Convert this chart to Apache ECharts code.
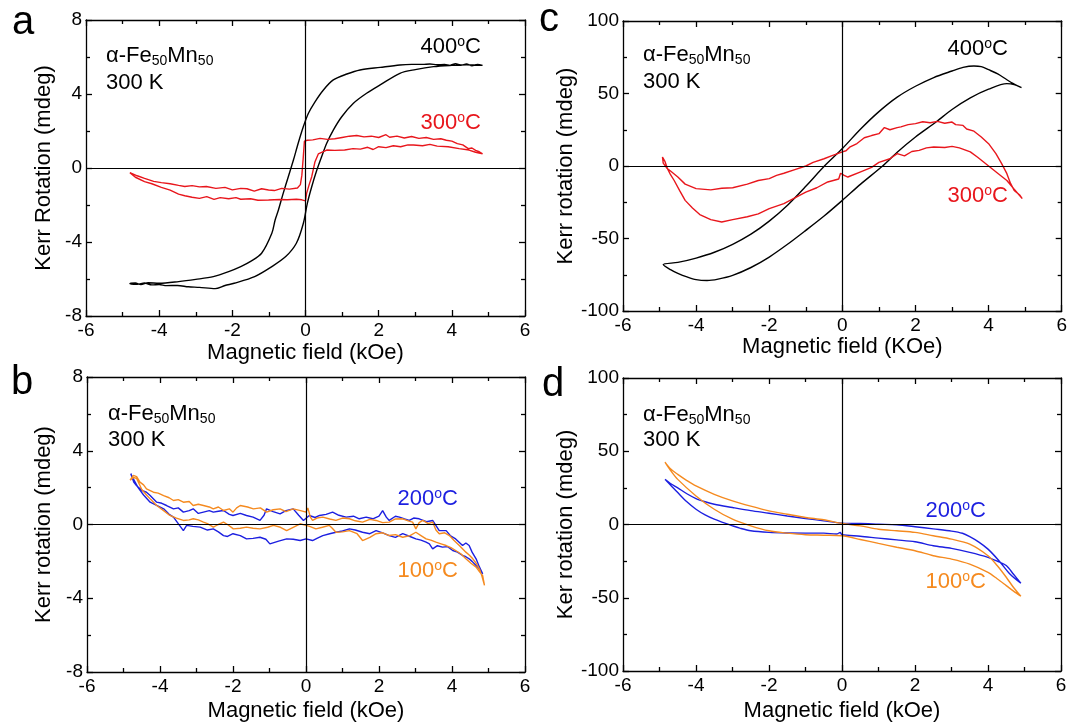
<!DOCTYPE html>
<html>
<head>
<meta charset="utf-8">
<title>Kerr loops</title>
<script src="https://cdn.jsdelivr.net/npm/echarts@6/dist/echarts.min.js"></script>
<style>
  html, body { margin: 0; padding: 0; background: #fff; }
  #main { width: 1070px; height: 723px; }
</style>
</head>
<body>
<div id="main"></div>
<script>
// ---- data: [field (kOe), Kerr rotation (mdeg)] ----
// panel a
var loopA400 = [[4.84,5.55],[4.7,5.6],[4.55,5.52],[4.4,5.62],[4.25,5.55],[4.1,5.64],[3.95,5.55],[3.8,5.6],[3.6,5.58],[3.4,5.62],
  [3.2,5.6],[2.9,5.6],[2.58,5.57],[2.04,5.44],[1.49,5.3],[1.13,5.08],[0.76,4.76],[0.49,4.22],[0.26,3.58],[0.08,2.96],
  [-0.06,2.23],[-0.2,1.34],[-0.33,0.43],[-0.47,-0.47],[-0.61,-1.37],[-0.74,-2.27],[-0.83,-2.81],[-0.92,-3.53],[-1.2,-4.61],[-1.5,-5.05],
  [-1.77,-5.33],[-2.1,-5.6],[-2.52,-5.87],[-3.0,-6.02],[-3.47,-6.14],[-4.0,-6.23],[-4.3,-6.2],[-4.5,-6.3],[-4.65,-6.22],[-4.8,-6.25],
  [-4.6,-6.28],[-4.4,-6.22],[-4.2,-6.32],[-4.0,-6.3],[-3.8,-6.36],[-3.5,-6.35],[-3.2,-6.42],[-2.9,-6.45],[-2.47,-6.52],[-2.2,-6.35],
  [-1.95,-6.23],[-1.39,-5.87],[-0.92,-5.33],[-0.54,-4.79],[-0.25,-4.07],[-0.06,-3.0],[0.05,-1.91],[0.17,-1.01],[0.31,-0.11],[0.44,0.61],
  [0.58,1.34],[0.76,2.05],[0.99,2.77],[1.31,3.5],[1.67,4.04],[2.04,4.49],[2.58,5.12],[3.0,5.32],[3.5,5.48],[4.0,5.55],[4.4,5.58],[4.84,5.55]];
var loopA300 = [[4.84,0.76],[4.75,0.88],[4.65,0.95],[4.55,1.08],[4.45,1.05],[4.3,1.25],[4.15,1.32],[4.0,1.45],[3.85,1.5],[3.7,1.58],
  [3.5,1.55],[3.3,1.65],[3.1,1.6],[2.9,1.7],[2.7,1.62],[2.5,1.72],[2.3,1.66],[2.2,1.8],[2.0,1.65],[1.8,1.72],
  [1.6,1.68],[1.4,1.76],[1.2,1.72],[1.0,1.65],[0.8,1.58],[0.6,1.55],[0.4,1.6],[0.2,1.52],[0.05,1.5],[-0.03,1.45],
  [-0.06,0.6],[-0.1,-0.4],[-0.14,-0.9],[-0.22,-1.08],[-0.44,-1.14],[-0.65,-1.1],[-0.85,-1.22],[-1.01,-1.19],[-1.2,-1.12],[-1.4,-1.25],
  [-1.6,-1.12],[-1.77,-1.1],[-2.0,-1.18],[-2.2,-1.05],[-2.45,-1.1],[-2.71,-1.0],[-2.9,-1.02],[-3.1,-0.95],[-3.3,-1.0],[-3.47,-0.94],
  [-3.7,-0.85],[-3.94,-0.79],[-4.15,-0.72],[-4.4,-0.56],[-4.6,-0.42],[-4.8,-0.25],
  [-4.8,-0.35],[-4.65,-0.5],[-4.4,-0.74],[-4.2,-0.85],[-3.94,-1.05],[-3.7,-1.2],[-3.47,-1.41],[-3.3,-1.5],[-3.1,-1.58],[-2.9,-1.64],
  [-2.7,-1.55],[-2.5,-1.7],[-2.33,-1.6],[-2.1,-1.66],[-1.9,-1.6],[-1.77,-1.69],[-1.5,-1.66],[-1.3,-1.74],[-1.01,-1.73],[-0.7,-1.7],
  [-0.5,-1.72],[-0.25,-1.69],[-0.1,-1.72],[0.0,-1.78],[0.03,-1.37],[0.1,-0.9],[0.17,-0.47],[0.26,0.34],[0.35,0.76],[0.58,0.97],
  [0.8,0.95],[1.07,0.97],[1.3,1.05],[1.5,1.02],[1.7,1.12],[1.85,1.0],[2.0,1.15],[2.2,1.1],[2.4,1.2],[2.6,1.15],
  [2.8,1.25],[2.95,1.24],[3.2,1.2],[3.4,1.28],[3.6,1.18],[3.9,1.15],[4.2,1.05],[4.47,0.97],[4.65,0.85],[4.84,0.76]];

// panel b
var loopB200 = [[-4.8,2.75],[-4.72,2.3],[-4.64,2.1],[-4.5,1.85],[-4.37,1.75],[-4.27,1.57],[-4.09,1.21],[-3.95,1.15],[-3.82,1.03],[-3.63,0.85],
  [-3.5,0.9],[-3.36,0.67],[-3.2,0.75],[-3.09,0.85],[-2.95,0.6],[-2.81,0.67],[-2.65,0.75],[-2.54,0.67],[-2.4,0.72],[-2.26,0.76],
  [-2.1,0.55],[-2.0,0.49],[-1.8,0.6],[-1.63,0.49],[-1.45,0.4],[-1.26,0.22],[-1.15,0.5],[-1.08,0.85],[-0.9,0.7],[-0.71,0.58],
  [-0.55,0.75],[-0.35,0.85],[-0.2,0.5],[-0.07,0.22],[0.09,0.49],[0.25,0.38],[0.37,0.49],[0.55,0.55],[0.73,0.67],[0.9,0.5],
  [1.1,0.4],[1.3,0.45],[1.46,0.31],[1.65,0.4],[1.83,0.31],[2.0,0.45],[2.1,0.75],[2.2,0.4],[2.28,0.22],[2.45,0.45],
  [2.56,0.4],[2.7,0.3],[2.83,0.22],[2.95,0.35],[3.1,0.31],[3.3,0.15],[3.47,0.22],[3.65,-0.33],[3.84,-0.33],[3.95,-0.6],
  [4.1,-0.78],[4.29,-1.14],[4.38,-1.0],[4.47,-1.14],[4.55,-1.5],[4.66,-1.86],[4.75,-2.3],[4.84,-2.68],
  [4.75,-2.4],[4.66,-2.22],[4.55,-2.0],[4.47,-1.86],[4.38,-1.75],[4.29,-1.68],[4.15,-1.5],[4.02,-1.41],[3.88,-1.2],[3.74,-1.23],
  [3.6,-1.15],[3.47,-1.32],[3.38,-1.05],[3.29,-0.96],[3.15,-0.85],[3.01,-0.78],[2.85,-0.65],[2.65,-0.5],[2.45,-0.7],[2.28,-0.6],
  [2.1,-0.45],[1.92,-0.33],[1.75,-0.5],[1.55,-0.42],[1.35,-0.3],[1.19,-0.24],[1.0,-0.35],[0.82,-0.42],[0.65,-0.5],[0.46,-0.6],
  [0.3,-0.75],[0.18,-0.87],[0.0,-0.78],[-0.16,-0.87],[-0.35,-0.8],[-0.53,-0.78],[-0.75,-0.9],[-0.99,-1.05],[-1.1,-0.8],[-1.26,-0.69],
  [-1.45,-0.75],[-1.63,-0.78],[-1.8,-0.6],[-2.0,-0.5],[-2.15,-0.65],[-2.26,-0.6],[-2.4,-0.4],[-2.54,-0.24],[-2.7,-0.3],[-2.9,-0.14],
  [-3.1,-0.1],[-3.27,-0.05],[-3.36,-0.33],[-3.5,0.05],[-3.63,0.4],[-3.75,0.55],[-3.9,0.85],[-4.05,1.0],[-4.27,1.21],[-4.45,1.6],
  [-4.6,2.0],[-4.73,2.48],[-4.8,2.75]];
var loopB100 = [[-4.82,2.4],[-4.73,2.66],[-4.64,2.6],[-4.55,2.3],[-4.45,2.15],[-4.37,1.93],[-4.18,1.75],[-4.05,1.7],[-3.9,1.57],[-3.75,1.45],
  [-3.63,1.3],[-3.5,1.35],[-3.36,1.21],[-3.2,1.25],[-3.09,1.03],[-2.95,1.1],[-2.81,1.03],[-2.65,0.95],[-2.54,0.85],[-2.4,0.95],
  [-2.26,0.76],[-2.1,0.85],[-2.0,0.67],[-1.9,0.9],[-1.8,1.03],[-1.6,0.95],[-1.44,0.85],[-1.25,0.9],[-1.08,0.67],[-0.9,0.8],
  [-0.71,0.85],[-0.55,0.7],[-0.35,0.85],[-0.15,0.75],[0.0,0.67],[0.05,0.9],[0.12,0.4],[0.18,0.22],[0.3,0.35],[0.46,0.4],
  [0.65,0.3],[0.82,0.22],[1.0,0.35],[1.19,0.31],[1.35,0.2],[1.55,0.13],[1.75,0.28],[1.92,0.22],[2.1,0.1],[2.28,0.13],
  [2.45,0.3],[2.65,0.31],[2.8,0.2],[2.92,0.13],[3.01,-0.24],[3.1,0.1],[3.2,0.22],[3.35,0.05],[3.47,0.13],[3.56,-0.3],
  [3.65,-0.5],[3.8,-0.45],[3.93,-0.6],[4.05,-0.85],[4.2,-1.14],[4.38,-1.5],[4.47,-1.65],[4.57,-1.86],[4.66,-2.1],[4.75,-2.4],
  [4.82,-2.8],[4.89,-3.3],
  [4.84,-2.77],[4.75,-2.55],[4.66,-2.31],[4.52,-2.1],[4.38,-1.86],[4.25,-1.6],[4.1,-1.41],[3.97,-1.25],[3.84,-1.14],[3.7,-1.05],
  [3.56,-0.96],[3.42,-0.85],[3.29,-0.78],[3.15,-0.6],[3.01,-0.42],[2.85,-0.6],[2.65,-0.69],[2.45,-0.55],[2.28,-0.6],[2.1,-0.45],
  [1.92,-0.5],[1.75,-0.7],[1.55,-0.87],[1.4,-0.5],[1.19,-0.33],[1.0,-0.4],[0.82,-0.42],[0.72,-0.2],[0.64,-0.05],[0.45,-0.15],
  [0.27,-0.24],[0.1,-0.1],[0.0,-0.05],[-0.16,0.04],[-0.35,-0.15],[-0.53,-0.33],[-0.7,-0.15],[-0.89,-0.05],[-1.05,-0.15],[-1.26,-0.24],
  [-1.45,-0.2],[-1.63,-0.14],[-1.8,-0.2],[-1.99,-0.24],[-2.15,0.0],[-2.26,0.13],[-2.4,0.0],[-2.54,-0.14],[-2.7,0.05],[-2.81,0.13],
  [-2.95,0.25],[-3.09,0.31],[-3.2,0.25],[-3.36,0.22],[-3.55,0.35],[-3.73,0.49],[-3.9,0.75],[-4.09,1.03],[-4.25,1.35],[-4.37,1.6],
  [-4.5,1.9],[-4.64,2.5],[-4.73,2.55],[-4.82,2.4]];

// panel c
var loopC400 = [[4.9,54],[4.7,56.5],[4.5,59.5],[4.25,63.5],[4.0,66.4],[3.8,68.5],[3.6,69],[3.3,68],[3.0,65.5],[2.5,61],
  [2.0,55],[1.5,47.5],[1.0,37.5],[0.5,25.5],[0.0,12],[-0.49,0],[-1.0,-14],[-1.5,-27],[-2.0,-38],[-2.5,-47],
  [-3.0,-54],[-3.5,-59.5],[-4.0,-63.5],[-4.5,-66.5],[-4.9,-68],
  [-4.7,-71.5],[-4.5,-74],[-4.25,-76.5],[-4.0,-78.4],[-3.7,-79],[-3.4,-78],[-3.0,-75.4],[-2.5,-70],[-2.0,-62.8],[-1.5,-54],
  [-1.0,-44.4],[-0.5,-34.5],[0.0,-23.7],[0.5,-12.5],[1.1,0],[1.5,9.5],[2.0,20],[2.57,30.5],[3.0,39],[3.5,47],
  [4.0,53],[4.5,56.8],[4.7,56.2],[4.9,54]];
var loopC300 = [[4.92,-22.5],[4.85,-20],[4.7,-16.8],[4.6,-12],[4.5,-5.3],[4.35,2],[4.2,8.5],[4.0,15.4],[3.8,20],[3.6,24],
  [3.4,25.5],[3.3,28],[3.1,28.5],[3.0,30.3],[2.8,29.5],[2.6,30.8],[2.4,29.8],[2.2,30.5],[2.0,29.2],[1.8,28.5],
  [1.6,27],[1.5,26.5],[1.3,25],[1.15,26.5],[1.0,22.3],[0.8,21],[0.6,19.5],[0.4,15.5],[0.2,13],[0.1,10.5],
  [0.0,9.7],[-0.3,7],[-0.5,5],[-0.8,2.5],[-1.0,0],[-1.3,-2.5],[-1.6,-5],[-1.8,-6.5],[-2.0,-8.7],[-2.3,-10],
  [-2.6,-12.5],[-3.0,-15],[-3.3,-15.3],[-3.6,-16.5],[-4.0,-15.6],[-4.3,-12.5],[-4.5,-7.6],[-4.7,-3.5],[-4.8,-1.5],[-4.9,2],
  [-4.92,6.2],
  [-4.85,3],[-4.78,-2],[-4.7,-6],[-4.6,-10],[-4.45,-17],[-4.3,-23.7],[-4.1,-29],[-3.9,-33.5],[-3.6,-37],[-3.3,-38.6],
  [-3.0,-37],[-2.6,-35],[-2.3,-33],[-2.0,-29.4],[-1.6,-26],[-1.3,-22],[-1.0,-18],[-0.7,-15],[-0.4,-11],[-0.1,-9],
  [-0.05,-5],[0.0,-4],[0.05,-6.5],[0.15,-7.6],[0.5,-4],[0.8,-1],[1.0,2.5],[1.3,5],[1.5,8.5],[1.7,7],
  [1.9,10],[2.1,10.8],[2.3,12.5],[2.5,13.1],[2.8,12.8],[3.0,13.5],[3.2,12.5],[3.5,9.7],[3.7,6],[4.0,0],
  [4.3,-6],[4.5,-10],[4.7,-16],[4.92,-22.5]];

// panel d
var loopD200 = [[-4.85,30.8],[-4.7,28],[-4.5,25],[-4.25,21],[-4.0,17.7],[-3.75,15.5],[-3.5,13.8],[-3.0,11.6],[-2.5,9.5],[-2.0,7.7],
  [-1.5,5.8],[-1.0,4.1],[-0.5,2.5],[0.0,0.9],[0.2,0.7],[0.5,0.7],[1.0,0.2],[1.5,-0.2],[2.0,-1.5],[2.5,-3.0],
  [3.0,-4.5],[3.3,-6],[3.5,-8.3],[3.75,-12],[4.0,-16.8],[4.3,-24.7],[4.6,-33.8],[4.9,-40.1],
  [4.7,-34],[4.5,-28],[4.25,-25],[4.0,-22.4],[3.5,-19],[3.0,-16.3],[2.5,-14.5],[2.0,-11.8],[1.5,-10.5],[1.0,-9.3],
  [0.5,-8],[0.0,-7],[-0.05,-5.5],[-0.15,-6.5],[-0.5,-5.9],[-1.0,-5.9],[-1.5,-5.8],[-2.0,-5.4],[-2.5,-4.3],[-2.8,-2.5],
  [-3.0,-0.9],[-3.25,1.3],[-3.5,3.6],[-3.75,6.5],[-4.0,10.4],[-4.25,15.5],[-4.5,21.8],[-4.7,27],[-4.85,30.8]];
var loopD100 = [[-4.85,42.6],[-4.7,38],[-4.5,34.2],[-4.25,30],[-4.0,26.3],[-3.5,20.6],[-3.0,16.1],[-2.5,12.5],[-2.0,9.3],[-1.5,7],
  [-1.0,4.8],[-0.5,3.2],[0.0,0.7],[0.5,-0.9],[1.0,-3.2],[1.5,-4.3],[2.0,-5.4],[2.5,-7.7],[3.0,-10],[3.5,-13.4],
  [4.0,-21.3],[4.25,-28],[4.5,-36],[4.7,-43],[4.9,-49],
  [4.7,-45.5],[4.5,-41.7],[4.25,-37],[4.0,-32.7],[3.5,-27],[3.0,-23.6],[2.5,-21.3],[2.0,-17.9],[1.5,-15.5],[1.0,-12.9],
  [0.5,-10.2],[0.0,-7.7],[-0.5,-7.3],[-1.0,-7],[-1.5,-5.9],[-2.0,-4.3],[-2.5,-0.9],[-3.0,3.6],[-3.5,10.4],[-4.0,19.5],
  [-4.5,30.8],[-4.7,37],[-4.85,42.6]];

var fieldRange = [-6, 6, 2];
var kerrRangeSmall = [-8, 8, 4];
var kerrRangeLarge = [-100, 100, 50];

var FONT = "'Liberation Sans', Arial, Helvetica, sans-serif";
var RED = '#e8161c', BLUE = '#1c1fe0', ORANGE = '#f58a1f', BLACK = '#000';

var panels = [
  { grid: {left: 86, top: 20, width: 439, height: 296}, y: kerrRangeSmall,
    xName: 'Magnetic field (kOe)', yName: 'Kerr Rotation (mdeg)', xGap: 26, yGap: 31,
    lines: [[loopA400, BLACK, true], [loopA300, RED, false]] },
  { grid: {left: 87, top: 377, width: 438, height: 295}, y: kerrRangeSmall,
    xName: 'Magnetic field (kOe)', yName: 'Kerr rotation (mdeg)', xGap: 28, yGap: 32,
    lines: [[loopB200, BLUE, false], [loopB100, ORANGE, false]] },
  { grid: {left: 623, top: 21, width: 439, height: 290}, y: kerrRangeLarge,
    xName: 'Magnetic field (KOe)', yName: 'Kerr rotation (mdeg)', xGap: 20, yGap: 41,
    lines: [[loopC400, BLACK, true], [loopC300, RED, false]] },
  { grid: {left: 623, top: 378, width: 438, height: 294}, y: kerrRangeLarge,
    xName: 'Magnetic field (kOe)', yName: 'Ker rotation (mdeg)', xGap: 29, yGap: 40,
    lines: [[loopD200, BLUE, true], [loopD100, ORANGE, true]] }
];

function axisBase(range, pos, withLabel) {
  return {
    type: 'value', min: range[0], max: range[1], interval: range[2], position: pos,
    axisLine: {show: true, onZero: false, lineStyle: {color: BLACK, width: 1.3}},
    axisTick: {show: true, inside: true, length: 6, lineStyle: {color: BLACK, width: 1.3}},
    minorTick: {show: true, splitNumber: 2, length: 4, lineStyle: {color: BLACK, width: 1.3}},
    axisLabel: {show: withLabel, color: BLACK, fontSize: 19, fontFamily: FONT, margin: 5,
                showMinLabel: true, showMaxLabel: true},
    splitLine: {show: false},
    silent: true
  };
}

var grids = [], xAxes = [], yAxes = [], series = [];
panels.forEach(function (p, i) {
  grids.push(p.grid);
  var xb = axisBase(fieldRange, 'bottom', true);
  xb.gridIndex = i;
  xb.name = p.xName; xb.nameLocation = 'middle'; xb.nameGap = p.xGap;
  xb.nameTextStyle = {color: BLACK, fontSize: 22, fontFamily: FONT};
  var xt = axisBase(fieldRange, 'top', false);
  xt.gridIndex = i;
  var yl = axisBase(p.y, 'left', true);
  yl.gridIndex = i;
  yl.axisLabel.margin = 4;
  yl.name = p.yName; yl.nameLocation = 'middle'; yl.nameGap = p.yGap;
  yl.nameTextStyle = {color: BLACK, fontSize: 22, fontFamily: FONT};
  var yr = axisBase(p.y, 'right', false);
  yr.gridIndex = i;
  xAxes.push(xb, xt);
  yAxes.push(yl, yr);

  p.lines.forEach(function (l, k) {
    var s = {
      type: 'line', xAxisIndex: 2 * i, yAxisIndex: 2 * i, data: l[0],
      symbol: 'none', showSymbol: false, smooth: l[2] ? 0.3 : false,
      lineStyle: {color: l[1], width: 1.4}, silent: true, animation: false
    };
    if (k === 0) {
      // zero cross-hair lines
      s.markLine = {
        silent: true, symbol: ['none', 'none'], label: {show: false}, animation: false,
        lineStyle: {color: BLACK, width: 1.2, type: 'solid'},
        emphasis: {disabled: true},
        data: [{xAxis: 0}, {yAxis: 0}]
      };
    }
    series.push(s);
  });
});

function rich(color) {
  return {
    m: {fontSize: 22, fontFamily: FONT, lineHeight: 24, fill: color},
    s: {fontSize: 14, fontFamily: FONT, lineHeight: 12, verticalAlign: 'bottom', fill: color},
    u: {fontSize: 14, fontFamily: FONT, lineHeight: 7, verticalAlign: 'top', fill: color}
  };
}
var alloy = '{m|\u03b1-Fe}{s|50}{m|Mn}{s|50}';
function deg(t) { return '{m|' + t + '}{u|o}{m|C}'; }

// [text, x, y, colour, align]
var notes = [
  [alloy, 106, 56, BLACK, 'left'], ['{m|300 K}', 106, 83, BLACK, 'left'],
  [deg('400'), 481, 47, BLACK, 'right'], [deg('300'), 481, 123, RED, 'right'],
  [alloy, 108, 414, BLACK, 'left'], ['{m|300 K}', 108, 440, BLACK, 'left'],
  [deg('200'), 458, 499, BLUE, 'right'], [deg('100'), 458, 571, ORANGE, 'right'],
  [alloy, 643, 55, BLACK, 'left'], ['{m|300 K}', 643, 82, BLACK, 'left'],
  [deg('400'), 1008, 49, BLACK, 'right'], [deg('300'), 1008, 196, RED, 'right'],
  [alloy, 643, 415, BLACK, 'left'], ['{m|300 K}', 643, 440, BLACK, 'left'],
  [deg('200'), 986, 511, BLUE, 'right'], [deg('100'), 986, 582, ORANGE, 'right']
];
var letters = [['a', 12, 23], ['b', 11, 383], ['c', 539, 20], ['d', 542, 385]];

var graphics = [];
notes.forEach(function (n) {
  graphics.push({
    type: 'text', x: n[1], y: n[2], silent: true,
    style: {text: n[0], rich: rich(n[3]), fill: n[3], align: n[4], verticalAlign: 'middle',
            fontSize: 22, fontFamily: FONT}
  });
});
letters.forEach(function (l) {
  graphics.push({
    type: 'text', x: l[1], y: l[2], silent: true,
    style: {text: l[0], fill: BLACK, fontSize: 40, fontFamily: FONT, align: 'left', verticalAlign: 'middle'}
  });
});

var chart = echarts.init(document.getElementById('main'), null, {renderer: 'canvas'});
chart.setOption({
  backgroundColor: '#fff',
  animation: false,
  grid: grids,
  xAxis: xAxes,
  yAxis: yAxes,
  series: series,
  graphic: graphics
});
</script>
</body>
</html>
